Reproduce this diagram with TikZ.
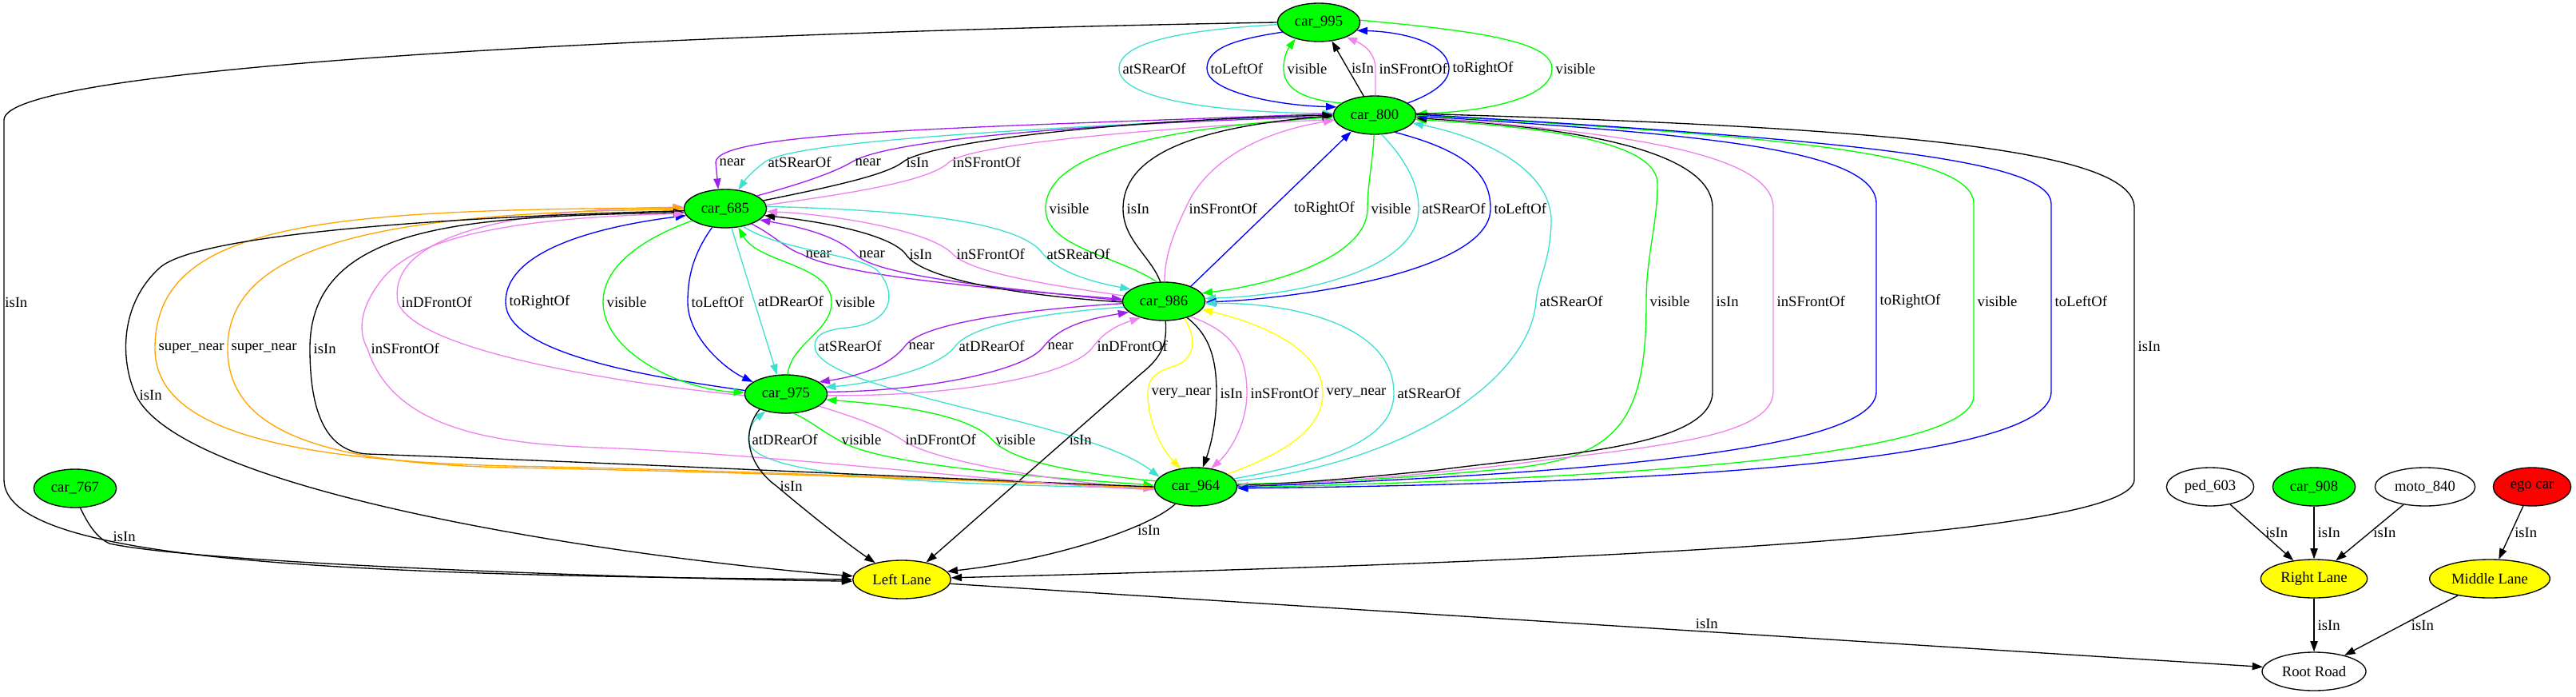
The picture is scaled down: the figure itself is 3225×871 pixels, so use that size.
\documentclass[tikz,border=0pt]{standalone}
\usepackage{fontspec}
\setmainfont{Liberation Serif}
\usetikzlibrary{arrows.meta,shapes.geometric}
\newcommand{\gvfont}{\fontsize{14pt}{16pt}\selectfont}
\definecolor{gvgreen}{HTML}{00FF00}
\definecolor{gvturq}{HTML}{40E0D0}
\definecolor{gvpurple}{HTML}{A020F0}
\definecolor{gvviolet}{HTML}{EE82EE}
\definecolor{gvblue}{HTML}{0000FF}
\definecolor{gvorange}{HTML}{FFA500}
\definecolor{gvyellow}{HTML}{FFFF00}
\definecolor{gvred}{HTML}{FF0000}
\tikzset{
 gvnode/.style={ellipse, draw=black, line width=1pt, minimum height=36pt, inner sep=0pt, font=\gvfont, text=black},
 gcar/.style={gvnode, fill=gvgreen, minimum width=77.5pt},
 glane/.style={gvnode, fill=gvyellow},
 gwhite/.style={gvnode, fill=white},
 gred/.style={gvnode, fill=gvred},
 gvline/.style={line width=1pt},
 fw/.style={gvline, -{Triangle[length=10pt,width=7pt]}},
 bw/.style={gvline, {Triangle[length=10pt,width=7pt]}-},
 lab/.style={anchor=west, inner sep=0pt, inner xsep=3pt, font=\gvfont, text=black},
 cnear/.style={draw=gvpurple},
 cturq/.style={draw=gvturq},
 cblue/.style={draw=gvblue},
 cvis/.style={draw=gvgreen},
 cviol/.style={draw=gvviolet},
 csup/.style={draw=gvorange},
 cvery/.style={draw=gvyellow},
}
\begin{document}
\begin{tikzpicture}[x=0.75pt,y=0.75pt]
\useasboundingbox (0,0) rectangle (3225,-871);
% nodes
\node[gcar] (n995) at (1651,-28) {car\_995};
\node[gcar] (n800) at (1721,-144) {car\_800};
\node[gcar] (n685) at (908,-261) {car\_685};
\node[gcar] (n986) at (1457,-377) {car\_986};
\node[gcar] (n975) at (984,-493) {car\_975};
\node[gcar] (n964) at (1497,-609) {car\_964};
\node[gcar] (n767) at (94,-611) {car\_767};
\node[glane, minimum width=92pt] (LL) at (1129,-725) {Left Lane};
\node[gwhite, minimum width=82pt] (ped) at (2767,-609) {ped\_603};
\node[gcar] (n908) at (2897,-609) {car\_908};
\node[gwhite, minimum width=94pt] (moto) at (3036,-609) {moto\_840};
\node[gred, minimum width=73pt] (ego) at (3170,-609) {ego car};
\node[glane, minimum width=100pt] (RL) at (2897,-724) {Right Lane};
\node[glane, minimum width=113pt] (ML) at (3117,-724) {Middle Lane};
\node[gwhite, minimum width=97.5pt] (RR) at (2897,-840) {Root Road};

% A: car_995 <-> car_800
\draw[fw,cturq] (n995.183) .. controls (1470,-38) and (1401,-55) .. (1401,-86) node[lab]{atSRearOf} .. controls (1401,-120) and (1500,-140) .. (n800.178);
\draw[fw,cblue] (n995.195) .. controls (1540,-50) and (1511,-62) .. (1511,-86) node[lab]{toLeftOf} .. controls (1511,-115) and (1600,-132) .. (n800.168);
\draw[fw,cvis] (n800.160) .. controls (1630,-125) and (1607,-110) .. (1607,-86) node[lab]{visible} .. controls (1607,-70) and (1612,-62) .. (n995.215);
\draw[fw] (n800.120) -- (n995.-55) node[lab,pos=0.5]{isIn};
\draw[fw,cviol] (n800.88) .. controls (1722,-112) and (1722,-98) .. (1722,-86) node[lab]{inSFrontOf} .. controls (1722,-70) and (1712,-58) .. (n995.-28);
\draw[fw,cblue] (n800.20) .. controls (1800,-115) and (1814,-100) .. (1814,-86) node[lab]{toRightOf} .. controls (1814,-55) and (1760,-40) .. (n995.-12);
\draw[fw,cvis] (n995.3) .. controls (1870,-40) and (1943,-55) .. (1943,-86) node[lab]{visible} .. controls (1943,-125) and (1850,-140) .. (n800.2);

% B: car_800 <-> car_685
\draw[fw,cnear] (n800.178) .. controls (1200,-160) and (898,-165) .. (896,-203) node[lab]{near} -- (n685.110);
\draw[fw,cturq] (n800.179) .. controls (1250,-162) and (990,-178) .. (957,-203) node[lab]{atSRearOf} .. controls (945,-212) and (935,-222) .. (n685.55);
\draw[fw,cnear] (n685.22) .. controls (1010,-228) and (1045,-215) .. (1066,-203) node[lab]{near} .. controls (1110,-175) and (1350,-155) .. (n800.182);
\draw[fw] (n685.12) .. controls (1050,-232) and (1110,-218) .. (1130,-203) node[lab]{isIn} .. controls (1160,-178) and (1400,-150) .. (n800.180);
\draw[fw,cviol] (n685.5) .. controls (1080,-240) and (1165,-225) .. (1188,-203) node[lab]{inSFrontOf} .. controls (1215,-180) and (1450,-160) .. (n800.186);

% C: car_800 <-> car_986
\draw[fw,cvis] (n986.110) .. controls (1400,-320) and (1309,-310) .. (1309,-261) node[lab]{visible} .. controls (1309,-200) and (1420,-162) .. (n800.183);
\draw[fw] (n986.100) .. controls (1440,-320) and (1406,-300) .. (1406,-261) node[lab]{isIn} .. controls (1406,-200) and (1480,-160) .. (n800.181);
\draw[fw,cviol] (n986.88) .. controls (1458,-320) and (1470,-290) .. (1484,-261) node[lab]{inSFrontOf} .. controls (1510,-200) and (1580,-165) .. (n800.187);
\draw[fw,cblue] (n986.29) -- (n800.215) node[lab,pos=0.5,xshift=18pt]{toRightOf};
\draw[fw,cvis] (n800.-92) .. controls (1719,-200) and (1712,-230) .. (1712,-261) node[lab]{visible} .. controls (1712,-320) and (1600,-355) .. (n986.12);
\draw[fw,cturq] (n800.-70) .. controls (1760,-200) and (1776,-230) .. (1776,-261) node[lab]{atSRearOf} .. controls (1776,-340) and (1620,-370) .. (n986.4);
\draw[fw,cblue] (n800.-40) .. controls (1840,-190) and (1866,-220) .. (1866,-261) node[lab]{toLeftOf} .. controls (1866,-340) and (1620,-374) .. (n986.-1);

% D: car_685 <-> car_986
\draw[fw,cnear] (n685.-30) .. controls (970,-295) and (985,-312) .. (1004,-318) node[lab]{near} .. controls (1050,-345) and (1250,-362) .. (n986.177);
\draw[fw,cnear] (n986.179) .. controls (1250,-360) and (1095,-345) .. (1071,-318) node[lab]{near} .. controls (1045,-292) and (990,-282) .. (n685.-18);
\draw[fw] (n986.181) .. controls (1250,-368) and (1150,-345) .. (1134,-318) node[lab]{isIn} .. controls (1112,-290) and (1010,-275) .. (n685.-10);
\draw[fw,cviol] (n986.172) .. controls (1300,-355) and (1215,-340) .. (1193,-318) node[lab]{inSFrontOf} .. controls (1165,-288) and (1040,-268) .. (n685.-4);
\draw[fw,cturq] (n685.3) .. controls (1100,-262) and (1275,-272) .. (1306,-318) node[lab]{atSRearOf} .. controls (1330,-345) and (1380,-355) .. (n986.160);

% E: car_685 <-> car_975
\draw[fw,cviol] (n975.182) .. controls (780,-480) and (520,-440) .. (498,-378) node[lab]{inDFrontOf} .. controls (485,-300) and (620,-262) .. (n685.178);
\draw[fw,cblue] (n975.175) .. controls (800,-470) and (633,-440) .. (633,-378) node[lab]{toRightOf} .. controls (633,-310) and (760,-282) .. (n685.190);
\draw[fw,cvis] (n685.-160) .. controls (800,-300) and (755,-335) .. (755,-378) node[lab]{visible} .. controls (755,-440) and (850,-487) .. (n975.178);
\draw[fw,cblue] (n685.-125) .. controls (866,-320) and (861,-350) .. (861,-378) node[lab]{toLeftOf} .. controls (861,-420) and (905,-460) .. (n975.160);
\draw[fw,cturq] (n685.-72) -- (n975.115) node[lab,pos=0.5]{atDRearOf};
\draw[fw,cvis] (n975.85) .. controls (990,-430) and (1041,-415) .. (1041,-378) node[lab]{visible} .. controls (1041,-330) and (950,-330) .. (n685.-55);
\draw[fw,cturq] (n685.-45) .. controls (980,-315) and (1080,-318) .. (1100,-340) .. controls (1125,-370) and (1115,-405) .. (1060,-410) .. controls (1030,-413) and (1020,-420) .. (1020,-433) node[lab]{atSRearOf} .. controls (1020,-490) and (1360,-525) .. (n964.165);

% F: car_986 <-> car_975
\draw[fw,cnear] (n986.183) .. controls (1300,-386) and (1155,-402) .. (1133,-433) node[lab]{near} .. controls (1110,-462) and (1065,-472) .. (n975.20);
\draw[fw,cturq] (n986.188) .. controls (1300,-392) and (1216,-407) .. (1196,-433) node[lab]{atDRearOf} .. controls (1175,-462) and (1090,-480) .. (n975.10);
\draw[fw,cnear] (n975.3) .. controls (1150,-490) and (1285,-465) .. (1307,-433) node[lab]{near} .. controls (1330,-405) and (1370,-398) .. (n986.197);
\draw[fw,cviol] (n975.-2) .. controls (1200,-496) and (1345,-470) .. (1369,-433) node[lab]{inDFrontOf} .. controls (1385,-412) and (1405,-405) .. (n986.215);

% G: car_975 <-> car_964, car_986 -> Left Lane
\draw[fw,cturq] (n964.182) .. controls (1200,-606) and (937,-600) .. (937,-550) node[lab]{atDRearOf} .. controls (937,-535) and (945,-525) .. (n975.-140);
\draw[fw,cvis] (n975.-68) .. controls (1012,-525) and (1030,-540) .. (1049,-550) node[lab]{visible} .. controls (1100,-585) and (1350,-600) .. (n964.178);
\draw[fw,cviol] (n975.-20) .. controls (1080,-525) and (1105,-535) .. (1129,-550) node[lab]{inDFrontOf} .. controls (1170,-580) and (1350,-605) .. (n964.183);
\draw[fw,cvis] (n964.172) .. controls (1330,-590) and (1265,-575) .. (1242,-550) node[lab]{visible} .. controls (1210,-515) and (1100,-505) .. (n975.-8);
\draw[fw] (n986.-85) .. controls (1462,-435) and (1450,-450) .. (1428,-468) -- (LL.35) node[lab,pos=0.35]{isIn};

% H: car_986 <-> car_964
\draw[fw,cvery] (n986.-40) .. controls (1500,-425) and (1495,-450) .. (1470,-458) .. controls (1442,-466) and (1437,-478) .. (1437,-492) node[lab]{very\_near} .. controls (1437,-530) and (1455,-562) .. (n964.130);
\draw[fw] (n986.-35) .. controls (1515,-420) and (1523,-450) .. (1523,-492) node[lab]{isIn} .. controls (1523,-530) and (1515,-560) .. (n964.70);
\draw[fw,cviol] (n986.-30) .. controls (1545,-415) and (1561,-445) .. (1561,-492) node[lab]{inSFrontOf} .. controls (1561,-530) and (1540,-565) .. (n964.50);
\draw[fw,cvery] (n964.22) .. controls (1600,-570) and (1656,-540) .. (1656,-492) node[lab]{very\_near} .. controls (1656,-430) and (1560,-400) .. (n986.-12);
\draw[fw,cturq] (n964.12) .. controls (1680,-575) and (1745,-545) .. (1745,-492) node[lab]{atSRearOf} .. controls (1745,-400) and (1600,-378) .. (n986.-3);

% I: car_800 <-> car_964 long loops, car_800 -> Left Lane
\draw[bw,cturq] (n800.-12) .. controls (1850,-170) and (1945,-210) .. (1942,-280) .. controls (1940,-330) and (1925,-350) .. (1923,-377) node[lab]{atSRearOf} .. controls (1915,-480) and (1750,-582) .. (n964.8);
\draw[bw,cvis] (n800.-6) .. controls (1950,-160) and (2075,-180) .. (2075,-230) .. controls (2075,-280) and (2061,-320) .. (2061,-377) node[lab]{visible} .. controls (2061,-520) and (2030,-570) .. (1900,-585) .. controls (1750,-600) and (1620,-605) .. (n964.4);
\draw[bw] (n800.-4) .. controls (1980,-160) and (2144,-190) .. (2144,-260) -- (2144,-377) node[lab]{isIn} -- (2144,-490) .. controls (2144,-560) and (1950,-568) .. (1800,-588) .. controls (1700,-598) and (1620,-605) .. (n964.2);
\draw[fw,cviol] (n800.-2) .. controls (2020,-165) and (2220,-190) .. (2220,-260) -- (2220,-377) node[lab]{inSFrontOf} -- (2220,-490) .. controls (2220,-550) and (2050,-560) .. (1900,-580) .. controls (1750,-598) and (1620,-606) .. (n964.1);
\draw[bw,cblue] (n800.-1) .. controls (2120,-168) and (2349,-185) .. (2349,-255) -- (2349,-377) node[lab]{toRightOf} -- (2349,-490) .. controls (2349,-562) and (2000,-592) .. (n964.0);
\draw[fw,cvis] (n800.0) .. controls (2220,-170) and (2471,-190) .. (2471,-255) -- (2471,-377) node[lab]{visible} -- (2471,-495) .. controls (2471,-570) and (2050,-598) .. (n964.-1);
\draw[fw,cblue] (n800.1) .. controls (2320,-175) and (2568,-200) .. (2568,-255) -- (2568,-377) node[lab]{toLeftOf} -- (2568,-490) .. controls (2568,-575) and (2100,-605) .. (n964.-2);
\draw[fw] (n800.2) .. controls (2400,-160) and (2672,-190) .. (2672,-260) -- (2672,-433) node[lab]{isIn} -- (2672,-600) .. controls (2672,-680) and (1800,-707) .. (LL.2);

% K: car_685 <-> car_964 loops on the left
\draw[bw,csup] (n685.179) .. controls (400,-262) and (194,-280) .. (194,-436) node[lab]{super\_near} .. controls (194,-530) and (330,-575) .. (638,-583) .. controls (900,-588) and (1200,-600) .. (n964.181);
\draw[fw,csup] (n685.181) .. controls (500,-265) and (285,-300) .. (285,-436) node[lab]{super\_near} .. controls (285,-530) and (380,-580) .. (640,-585) .. controls (900,-590) and (1200,-600) .. (n964.182);
\draw[bw] (n685.185) .. controls (600,-272) and (388,-275) .. (388,-436) node[lab]{isIn} .. controls (388,-520) and (410,-565) .. (460,-568) .. controls (800,-580) and (1200,-600) .. (n964.180);
\draw[bw,cviol] (n685.187) .. controls (650,-272) and (520,-295) .. (478,-350) .. controls (450,-385) and (448,-415) .. (460,-436) node[lab]{inSFrontOf} .. controls (490,-530) and (600,-555) .. (750,-560) .. controls (1000,-570) and (1250,-605) .. (n964.184);

% J: isIn to Left Lane
\draw[fw] (n995.180) .. controls (900,-40) and (5,-80) .. (5,-150) -- (5,-378) node[lab,inner xsep=0.5pt]{isIn} -- (5,-600) .. controls (5,-700) and (400,-720) .. (LL.180);
\draw[fw] (n767.-75) .. controls (110,-655) and (120,-672) .. (137,-680) node[lab,anchor=south west,inner ysep=1pt]{isIn} .. controls (250,-705) and (800,-724) .. (LL.182);
\draw[fw] (n685.183) .. controls (600,-270) and (250,-290) .. (200,-335) .. controls (150,-380) and (150,-450) .. (170,-494) node[lab]{isIn} .. controls (230,-620) and (800,-700) .. (LL.176);
\draw[fw] (n975.-150) .. controls (925,-545) and (940,-585) .. (972,-608) node[lab]{isIn} .. controls (1010,-640) and (1060,-680) .. (LL.148);
\draw[fw] (n964.-140) .. controls (1440,-660) and (1320,-700) .. (LL.10) node[lab,pos=0.35,xshift=8pt]{isIn};
\draw[fw] (LL.-5) -- (RR.175) node[lab,pos=0.565,anchor=south west,inner ysep=1pt]{isIn};

% right cluster
\draw[fw] (ped) -- (RL) node[lab,pos=0.5]{isIn};
\draw[fw] (n908) -- (RL) node[lab,pos=0.5]{isIn};
\draw[fw] (moto) -- (RL) node[lab,pos=0.5]{isIn};
\draw[fw] (ego) -- (ML) node[lab,pos=0.5]{isIn};
\draw[fw] (RL) -- (RR) node[lab,pos=0.5]{isIn};
\draw[fw] (ML) -- (RR) node[lab,pos=0.5,xshift=6pt]{isIn};
\end{tikzpicture}
\end{document}
